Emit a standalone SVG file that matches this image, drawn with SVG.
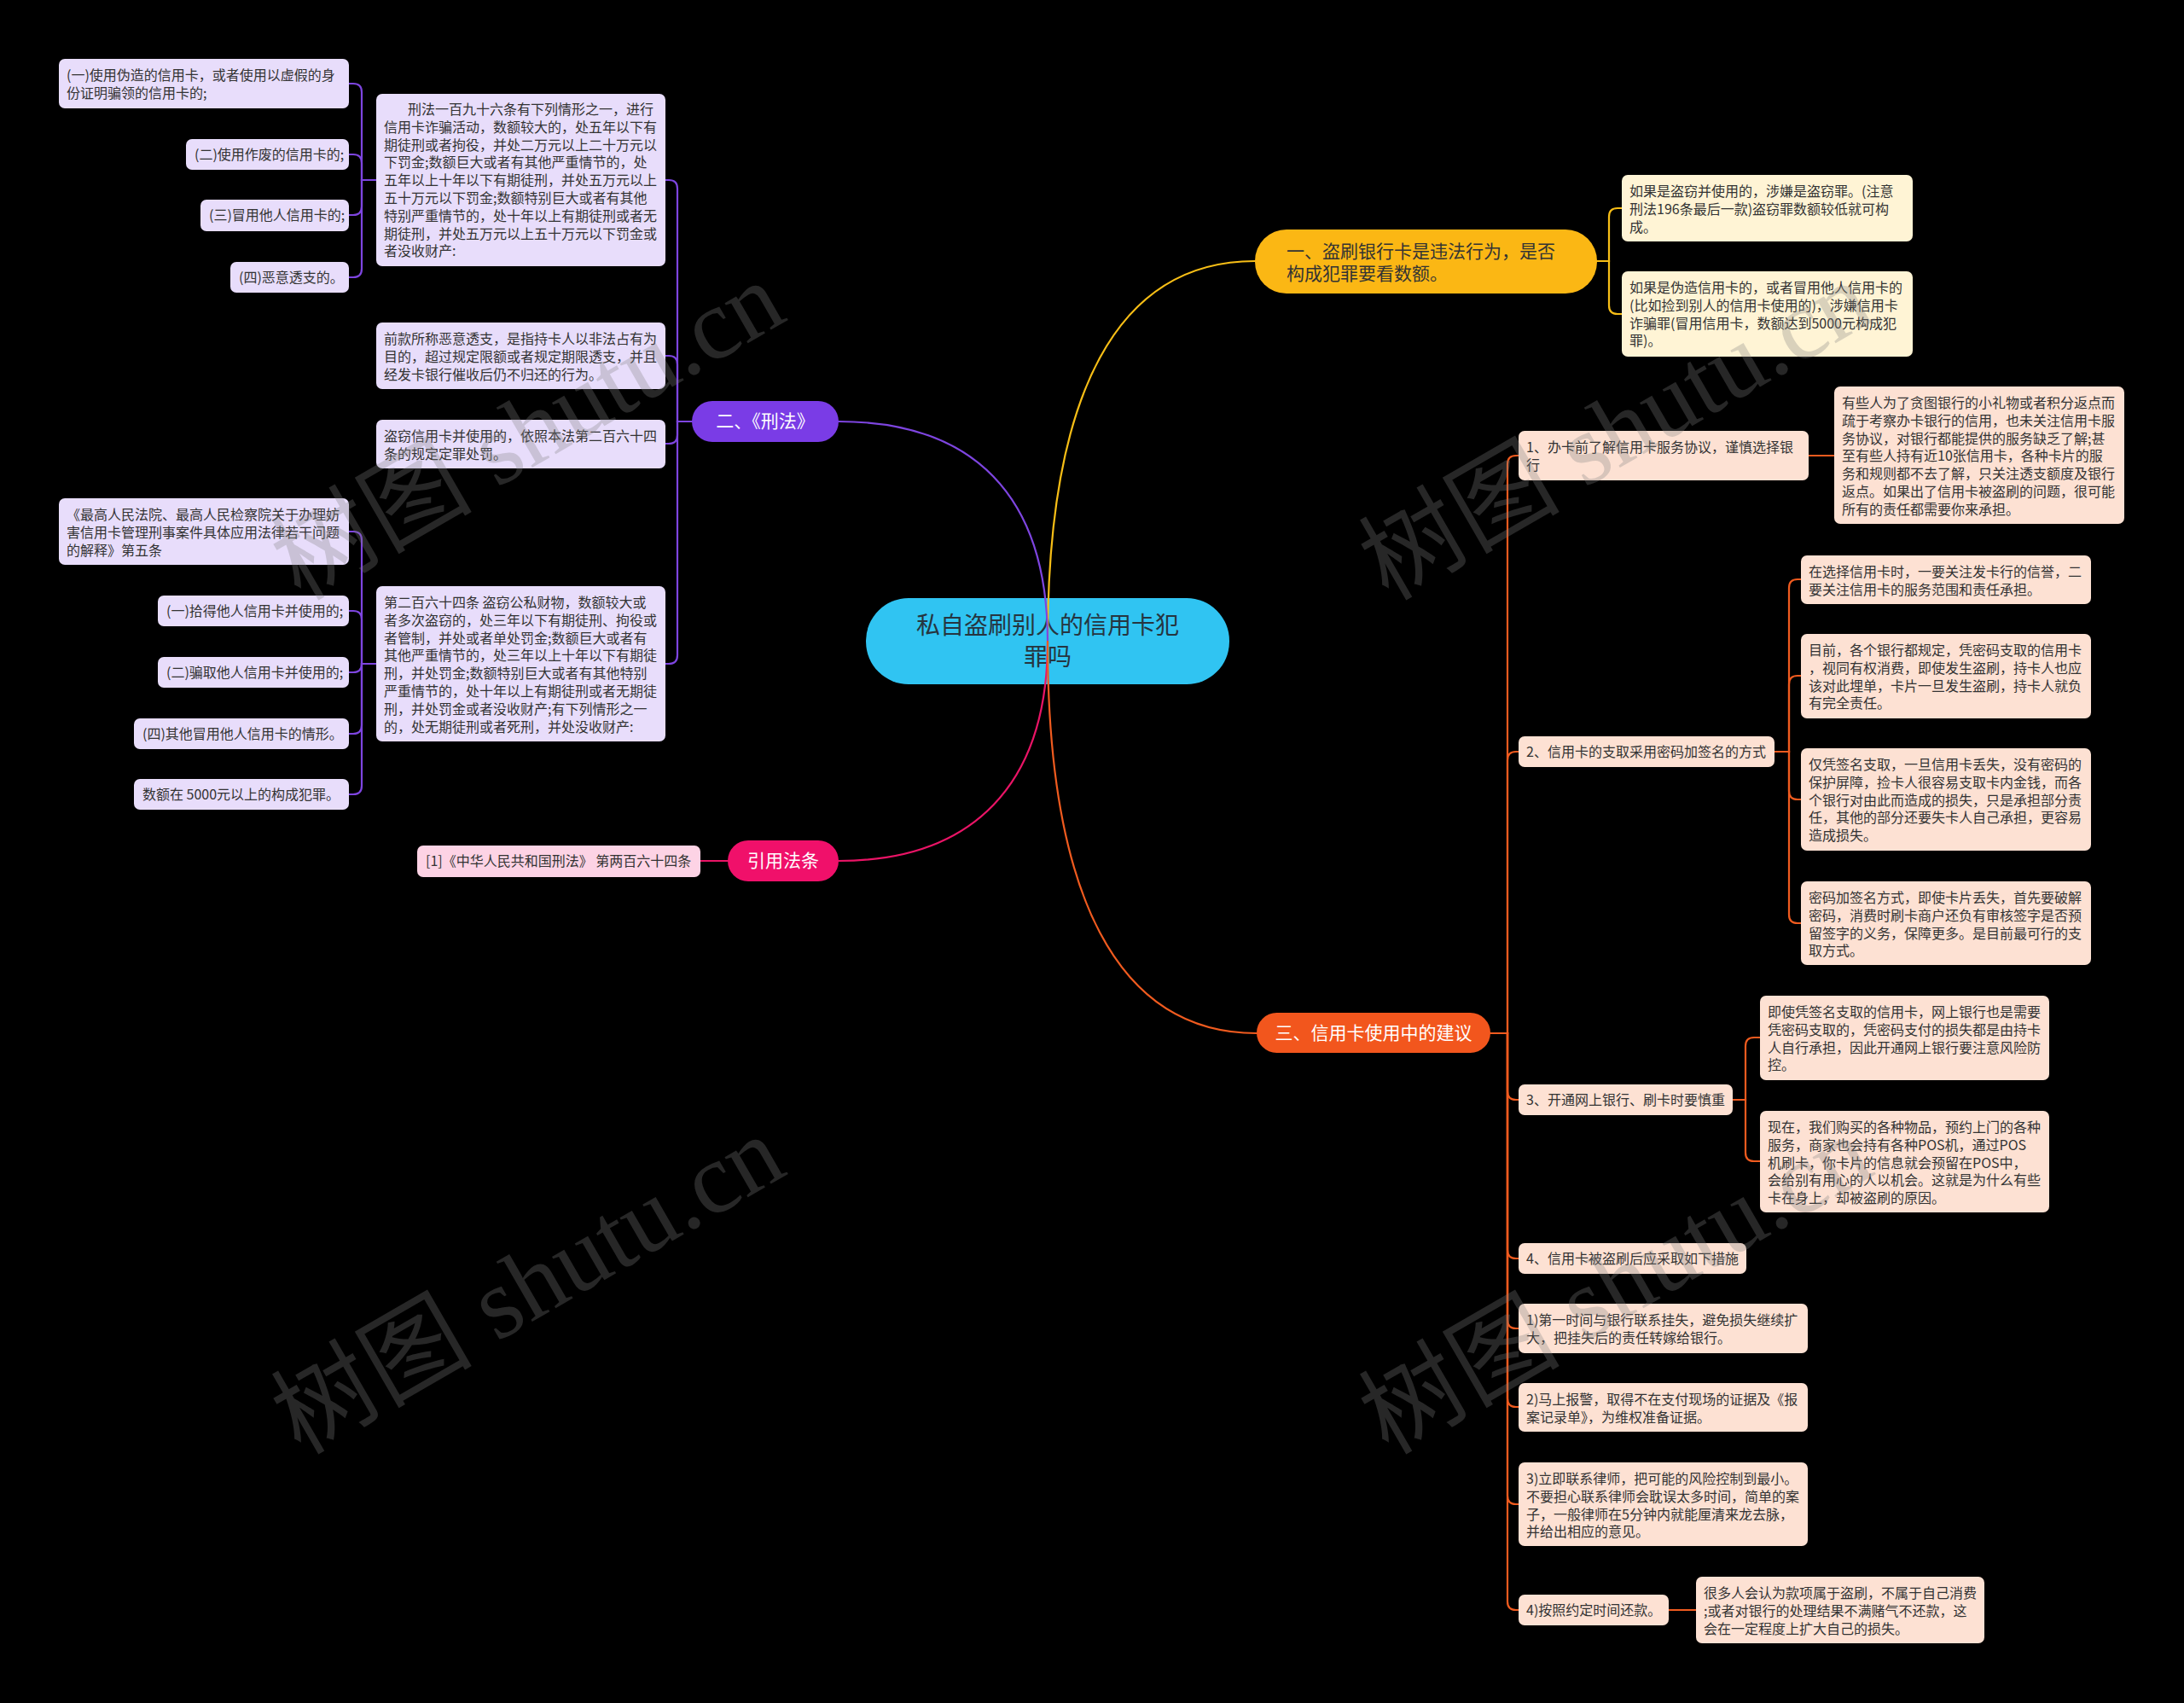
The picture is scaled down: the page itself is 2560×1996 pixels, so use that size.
<svg xmlns="http://www.w3.org/2000/svg" width="2560" height="1996" viewBox="0 0 2560 1996">
<style>
text{font-family:"Noto Sans CJK SC","Noto Sans",sans-serif}
.t{font-size:16px;fill:#333}
.bt{font-size:21px;fill:#fff}
.lp{fill:#E8DDFB}
.ly{fill:#FFF4D5}
.lk{fill:#FDD3E5}
.lo{fill:#FDE1D3}
.c{fill:none;stroke-width:2.2;stroke-linecap:round}
.cp{stroke:#7E45E0}
.cy{stroke:#F7BE16}
.ck{stroke:#EA1466}
.co{stroke:#F05B1F}
.wm{font-family:"Liberation Serif","Noto Sans CJK SC",serif;font-size:118px;fill:#808080;fill-opacity:0.3}
</style>
<rect width="2560" height="1996" fill="#000"/>
<g id="root">
<rect x="1015" y="701" width="426" height="101" rx="50" fill="#30C4F2"/>
<text x="1228" y="743" text-anchor="middle" font-size="28" fill="#263540">私自盗刷别人的信用卡犯</text>
<text x="1228" y="780" text-anchor="middle" font-size="28" fill="#263540">罪吗</text>
</g>
<g id="connectors">
<path class="c cy" stroke-width="2.6" d="M1228 752 C1228 460 1310 306 1471 306"/>
<path class="c cp" stroke-width="2.6" d="M1228 752 C1228 580 1140 494 983 494"/>
<path class="c ck" stroke-width="2.6" d="M1228 752 C1228 920 1140 1009 983 1009"/>
<path class="c co" stroke-width="2.6" d="M1228 752 C1228 1050 1310 1211 1473 1211"/>
<path class="c cp" d="M811 494 H794 V221 Q794 211 784 211 H780"/>
<path class="c cp" d="M811 494 H794 V427 Q794 417 784 417 H780"/>
<path class="c cp" d="M811 494 H794 V510 Q794 520 784 520 H780"/>
<path class="c cp" d="M811 494 H794 V768 Q794 778 784 778 H780"/>
<path class="c cp" d="M441 211 H424 V108 Q424 98 414 98 H409"/>
<path class="c cp" d="M441 211 H424 V191 Q424 181 414 181 H409"/>
<path class="c cp" d="M441 211 H424 V242 Q424 252 414 252 H409"/>
<path class="c cp" d="M441 211 H424 V315 Q424 325 414 325 H409"/>
<path class="c cp" d="M441 778 H424 V633 Q424 623 414 623 H409"/>
<path class="c cp" d="M441 778 H424 V726 Q424 716 414 716 H409"/>
<path class="c cp" d="M441 778 H424 V778 Q424 788 414 788 H409"/>
<path class="c cp" d="M441 778 H424 V850 Q424 860 414 860 H409"/>
<path class="c cp" d="M441 778 H424 V921 Q424 931 414 931 H409"/>
<path class="c cy" d="M1872 306 H1886 V254 Q1886 244 1896 244 H1901"/>
<path class="c cy" d="M1872 306 H1886 V358 Q1886 368 1896 368 H1901"/>
<path class="c ck" d="M853 1009 H821"/>
<path class="c co" d="M1747 1211 H1767 V544 Q1767 534 1777 534 H1780"/>
<path class="c co" d="M1747 1211 H1767 V891 Q1767 881 1777 881 H1780"/>
<path class="c co" d="M1747 1211 H1767 V1279 Q1767 1289 1777 1289 H1780"/>
<path class="c co" d="M1747 1211 H1767 V1465 Q1767 1475 1777 1475 H1780"/>
<path class="c co" d="M1747 1211 H1767 V1547 Q1767 1557 1777 1557 H1780"/>
<path class="c co" d="M1747 1211 H1767 V1639 Q1767 1649 1777 1649 H1780"/>
<path class="c co" d="M1747 1211 H1767 V1753 Q1767 1763 1777 1763 H1780"/>
<path class="c co" d="M1747 1211 H1767 V1877 Q1767 1887 1777 1887 H1780"/>
<path class="c co" d="M2120 534 H2150"/>
<path class="c co" d="M2080 881 H2097 V689 Q2097 679 2107 679 H2111"/>
<path class="c co" d="M2080 881 H2097 V802 Q2097 792 2107 792 H2111"/>
<path class="c co" d="M2080 881 H2097 V927 Q2097 937 2107 937 H2111"/>
<path class="c co" d="M2080 881 H2097 V1072 Q2097 1082 2107 1082 H2111"/>
<path class="c co" d="M2031 1289 H2046 V1226 Q2046 1216 2056 1216 H2063"/>
<path class="c co" d="M2031 1289 H2046 V1351 Q2046 1361 2056 1361 H2063"/>
<path class="c co" d="M1956 1887 H1988"/>
</g>
<g id="b1">
<rect x="1471" y="269" width="401" height="75" rx="37" fill="#FBB714"/>
<text x="1508" y="302" font-size="21" fill="#333">一、盗刷银行卡是违法行为，是否</text>
<text x="1508" y="328" font-size="21" fill="#333">构成犯罪要看数额。</text>
</g>
<g id="b2">
<rect x="811" y="470" width="172" height="48" rx="24" fill="#7A3CE6"/>
<text class="bt" x="897" y="501" text-anchor="middle">二、《刑法》</text>
</g>
<g id="b4">
<rect x="853" y="985" width="130" height="48" rx="24" fill="#F0106A"/>
<text class="bt" x="918" y="1016" text-anchor="middle">引用法条</text>
</g>
<g id="b3">
<rect x="1473" y="1187" width="274" height="47" rx="23.5" fill="#F2561D"/>
<text class="bt" x="1610" y="1218" text-anchor="middle">三、信用卡使用中的建议</text>
</g>
<g id="pA">
<rect class="lp" x="441" y="110" width="339" height="202" rx="7"/>
<text class="t"><tspan x="478" y="134">刑法一百九十六条有下列情形之一，进行</tspan><tspan x="450" y="154.8">信用卡诈骗活动，数额较大的，处五年以下有</tspan><tspan x="450" y="175.6">期徒刑或者拘役，并处二万元以上二十万元以</tspan><tspan x="450" y="196.4">下罚金;数额巨大或者有其他严重情节的，处</tspan><tspan x="450" y="217.2">五年以上十年以下有期徒刑，并处五万元以上</tspan><tspan x="450" y="238">五十万元以下罚金;数额特别巨大或者有其他</tspan><tspan x="450" y="258.8">特别严重情节的，处十年以上有期徒刑或者无</tspan><tspan x="450" y="279.6">期徒刑，并处五万元以上五十万元以下罚金或</tspan><tspan x="450" y="300.4">者没收财产:</tspan></text>
</g>
<g id="pB">
<rect class="lp" x="441" y="378" width="339" height="78" rx="7"/>
<text class="t"><tspan x="450" y="403">前款所称恶意透支，是指持卡人以非法占有为</tspan><tspan x="450" y="423.8">目的，超过规定限额或者规定期限透支，并且</tspan><tspan x="450" y="444.6">经发卡银行催收后仍不归还的行为。</tspan></text>
</g>
<g id="pC">
<rect class="lp" x="441" y="492" width="339" height="57" rx="7"/>
<text class="t"><tspan x="450" y="517">盗窃信用卡并使用的，依照本法第二百六十四</tspan><tspan x="450" y="537.8">条的规定定罪处罚。</tspan></text>
</g>
<g id="pD">
<rect class="lp" x="441" y="687" width="339" height="182" rx="7"/>
<text class="t"><tspan x="450" y="712">第二百六十四条 盗窃公私财物，数额较大或</tspan><tspan x="450" y="732.8">者多次盗窃的，处三年以下有期徒刑、拘役或</tspan><tspan x="450" y="753.6">者管制，并处或者单处罚金;数额巨大或者有</tspan><tspan x="450" y="774.4">其他严重情节的，处三年以上十年以下有期徒</tspan><tspan x="450" y="795.2">刑，并处罚金;数额特别巨大或者有其他特别</tspan><tspan x="450" y="816">严重情节的，处十年以上有期徒刑或者无期徒</tspan><tspan x="450" y="836.8">刑，并处罚金或者没收财产;有下列情形之一</tspan><tspan x="450" y="857.6">的，处无期徒刑或者死刑，并处没收财产:</tspan></text>
</g>
<g id="pA1">
<rect class="lp" x="69" y="69" width="340" height="58" rx="7"/>
<text class="t"><tspan x="78" y="94">(一)使用伪造的信用卡，或者使用以虚假的身</tspan><tspan x="78" y="114.8">份证明骗领的信用卡的;</tspan></text>
</g>
<g id="pA2">
<rect class="lp" x="218" y="163" width="191" height="36" rx="7"/>
<text class="t" x="228" y="187">(二)使用作废的信用卡的;</text>
</g>
<g id="pA3">
<rect class="lp" x="235" y="234" width="174" height="37" rx="7"/>
<text class="t" x="245" y="258">(三)冒用他人信用卡的;</text>
</g>
<g id="pA4">
<rect class="lp" x="270" y="307" width="139" height="36" rx="7"/>
<text class="t" x="280" y="331">(四)恶意透支的。</text>
</g>
<g id="pD1">
<rect class="lp" x="69" y="584" width="340" height="78" rx="7"/>
<text class="t"><tspan x="78" y="609">《最高人民法院、最高人民检察院关于办理妨</tspan><tspan x="78" y="629.8">害信用卡管理刑事案件具体应用法律若干问题</tspan><tspan x="78" y="650.6">的解释》第五条</tspan></text>
</g>
<g id="pD2">
<rect class="lp" x="185" y="698" width="224" height="36" rx="7"/>
<text class="t" x="195" y="722">(一)拾得他人信用卡并使用的;</text>
</g>
<g id="pD3">
<rect class="lp" x="185" y="770" width="224" height="36" rx="7"/>
<text class="t" x="195" y="794">(二)骗取他人信用卡并使用的;</text>
</g>
<g id="pD4">
<rect class="lp" x="157" y="842" width="252" height="36" rx="7"/>
<text class="t" x="167" y="866">(四)其他冒用他人信用卡的情形。</text>
</g>
<g id="pD5">
<rect class="lp" x="157" y="913" width="252" height="36" rx="7"/>
<text class="t" x="167" y="937">数额在 5000元以上的构成犯罪。</text>
</g>
<g id="k1">
<rect class="lk" x="489" y="991" width="332" height="37" rx="7"/>
<text class="t" x="499" y="1015">[1]《中华人民共和国刑法》 第两百六十四条</text>
</g>
<g id="y1">
<rect class="ly" x="1901" y="205" width="341" height="78" rx="7"/>
<text class="t"><tspan x="1910" y="230">如果是盗窃并使用的，涉嫌是盗窃罪。(注意</tspan><tspan x="1910" y="250.8">刑法196条最后一款)盗窃罪数额较低就可构</tspan><tspan x="1910" y="271.6">成。</tspan></text>
</g>
<g id="y2">
<rect class="ly" x="1901" y="318" width="341" height="100" rx="7"/>
<text class="t"><tspan x="1910" y="343">如果是伪造信用卡的，或者冒用他人信用卡的</tspan><tspan x="1910" y="363.8">(比如捡到别人的信用卡使用的)，涉嫌信用卡</tspan><tspan x="1910" y="384.6">诈骗罪(冒用信用卡，数额达到5000元构成犯</tspan><tspan x="1910" y="405.4">罪)。</tspan></text>
</g>
<g id="o1">
<rect class="lo" x="1780" y="505" width="340" height="58" rx="7"/>
<text class="t"><tspan x="1789" y="530">1、办卡前了解信用卡服务协议，谨慎选择银</tspan><tspan x="1789" y="550.8">行</tspan></text>
</g>
<g id="o1a">
<rect class="lo" x="2150" y="453" width="340" height="161" rx="7"/>
<text class="t"><tspan x="2159" y="478">有些人为了贪图银行的小礼物或者积分返点而</tspan><tspan x="2159" y="498.8">疏于考察办卡银行的信用，也未关注信用卡服</tspan><tspan x="2159" y="519.6">务协议，对银行都能提供的服务缺乏了解;甚</tspan><tspan x="2159" y="540.4">至有些人持有近10张信用卡，各种卡片的服</tspan><tspan x="2159" y="561.2">务和规则都不去了解，只关注透支额度及银行</tspan><tspan x="2159" y="582">返点。如果出了信用卡被盗刷的问题，很可能</tspan><tspan x="2159" y="602.8">所有的责任都需要你来承担。</tspan></text>
</g>
<g id="o2">
<rect class="lo" x="1780" y="863" width="300" height="36" rx="7"/>
<text class="t" x="1789" y="887">2、信用卡的支取采用密码加签名的方式</text>
</g>
<g id="o2a">
<rect class="lo" x="2111" y="651" width="340" height="57" rx="7"/>
<text class="t"><tspan x="2120" y="676">在选择信用卡时，一要关注发卡行的信誉，二</tspan><tspan x="2120" y="696.8">要关注信用卡的服务范围和责任承担。</tspan></text>
</g>
<g id="o2b">
<rect class="lo" x="2111" y="743" width="340" height="99" rx="7"/>
<text class="t"><tspan x="2120" y="768">目前，各个银行都规定，凭密码支取的信用卡</tspan><tspan x="2120" y="788.8">，视同有权消费，即使发生盗刷，持卡人也应</tspan><tspan x="2120" y="809.6">该对此埋单，卡片一旦发生盗刷，持卡人就负</tspan><tspan x="2120" y="830.4">有完全责任。</tspan></text>
</g>
<g id="o2c">
<rect class="lo" x="2111" y="877" width="340" height="120" rx="7"/>
<text class="t"><tspan x="2120" y="902">仅凭签名支取，一旦信用卡丢失，没有密码的</tspan><tspan x="2120" y="922.8">保护屏障，捡卡人很容易支取卡内金钱，而各</tspan><tspan x="2120" y="943.6">个银行对由此而造成的损失，只是承担部分责</tspan><tspan x="2120" y="964.4">任，其他的部分还要失卡人自己承担，更容易</tspan><tspan x="2120" y="985.2">造成损失。</tspan></text>
</g>
<g id="o2d">
<rect class="lo" x="2111" y="1033" width="340" height="98" rx="7"/>
<text class="t"><tspan x="2120" y="1058">密码加签名方式，即使卡片丢失，首先要破解</tspan><tspan x="2120" y="1078.8">密码，消费时刷卡商户还负有审核签字是否预</tspan><tspan x="2120" y="1099.6">留签字的义务，保障更多。是目前最可行的支</tspan><tspan x="2120" y="1120.4">取方式。</tspan></text>
</g>
<g id="o3">
<rect class="lo" x="1780" y="1271" width="251" height="36" rx="7"/>
<text class="t" x="1789" y="1295">3、开通网上银行、刷卡时要慎重</text>
</g>
<g id="o3a">
<rect class="lo" x="2063" y="1167" width="339" height="99" rx="7"/>
<text class="t"><tspan x="2072" y="1192">即使凭签名支取的信用卡，网上银行也是需要</tspan><tspan x="2072" y="1212.8">凭密码支取的，凭密码支付的损失都是由持卡</tspan><tspan x="2072" y="1233.6">人自行承担，因此开通网上银行要注意风险防</tspan><tspan x="2072" y="1254.4">控。</tspan></text>
</g>
<g id="o3b">
<rect class="lo" x="2063" y="1302" width="339" height="119" rx="7"/>
<text class="t"><tspan x="2072" y="1327">现在，我们购买的各种物品，预约上门的各种</tspan><tspan x="2072" y="1347.8">服务，商家也会持有各种POS机，通过POS</tspan><tspan x="2072" y="1368.6">机刷卡，你卡片的信息就会预留在POS中，</tspan><tspan x="2072" y="1389.4">会给别有用心的人以机会。这就是为什么有些</tspan><tspan x="2072" y="1410.2">卡在身上，却被盗刷的原因。</tspan></text>
</g>
<g id="o4">
<rect class="lo" x="1780" y="1457" width="267" height="36" rx="7"/>
<text class="t" x="1789" y="1481">4、信用卡被盗刷后应采取如下措施</text>
</g>
<g id="o5">
<rect class="lo" x="1780" y="1528" width="339" height="58" rx="7"/>
<text class="t"><tspan x="1789" y="1553">1)第一时间与银行联系挂失，避免损失继续扩</tspan><tspan x="1789" y="1573.8">大，把挂失后的责任转嫁给银行。</tspan></text>
</g>
<g id="o6">
<rect class="lo" x="1780" y="1621" width="339" height="57" rx="7"/>
<text class="t"><tspan x="1789" y="1646">2)马上报警，取得不在支付现场的证据及《报</tspan><tspan x="1789" y="1666.8">案记录单》，为维权准备证据。</tspan></text>
</g>
<g id="o7">
<rect class="lo" x="1780" y="1714" width="339" height="98" rx="7"/>
<text class="t"><tspan x="1789" y="1739">3)立即联系律师，把可能的风险控制到最小。</tspan><tspan x="1789" y="1759.8">不要担心联系律师会耽误太多时间，简单的案</tspan><tspan x="1789" y="1780.6">子，一般律师在5分钟内就能厘清来龙去脉，</tspan><tspan x="1789" y="1801.4">并给出相应的意见。</tspan></text>
</g>
<g id="o8">
<rect class="lo" x="1780" y="1869" width="176" height="36" rx="7"/>
<text class="t" x="1789" y="1893">4)按照约定时间还款。</text>
</g>
<g id="o8a">
<rect class="lo" x="1988" y="1848" width="338" height="78" rx="7"/>
<text class="t"><tspan x="1997" y="1873">很多人会认为款项属于盗刷，不属于自己消费</tspan><tspan x="1997" y="1893.8">;或者对银行的处理结果不满赌气不还款，这</tspan><tspan x="1997" y="1914.6">会在一定程度上扩大自己的损失。</tspan></text>
</g>
<g id="watermark">
<text class="wm" x="352" y="705" transform="rotate(-30 352 705)">树图 shutu.cn</text>
<text class="wm" x="1627" y="705" transform="rotate(-30 1627 705)">树图 shutu.cn</text>
<text class="wm" x="352" y="1706" transform="rotate(-30 352 1706)">树图 shutu.cn</text>
<text class="wm" x="1627" y="1706" transform="rotate(-30 1627 1706)">树图 shutu.cn</text>
</g>
</svg>
